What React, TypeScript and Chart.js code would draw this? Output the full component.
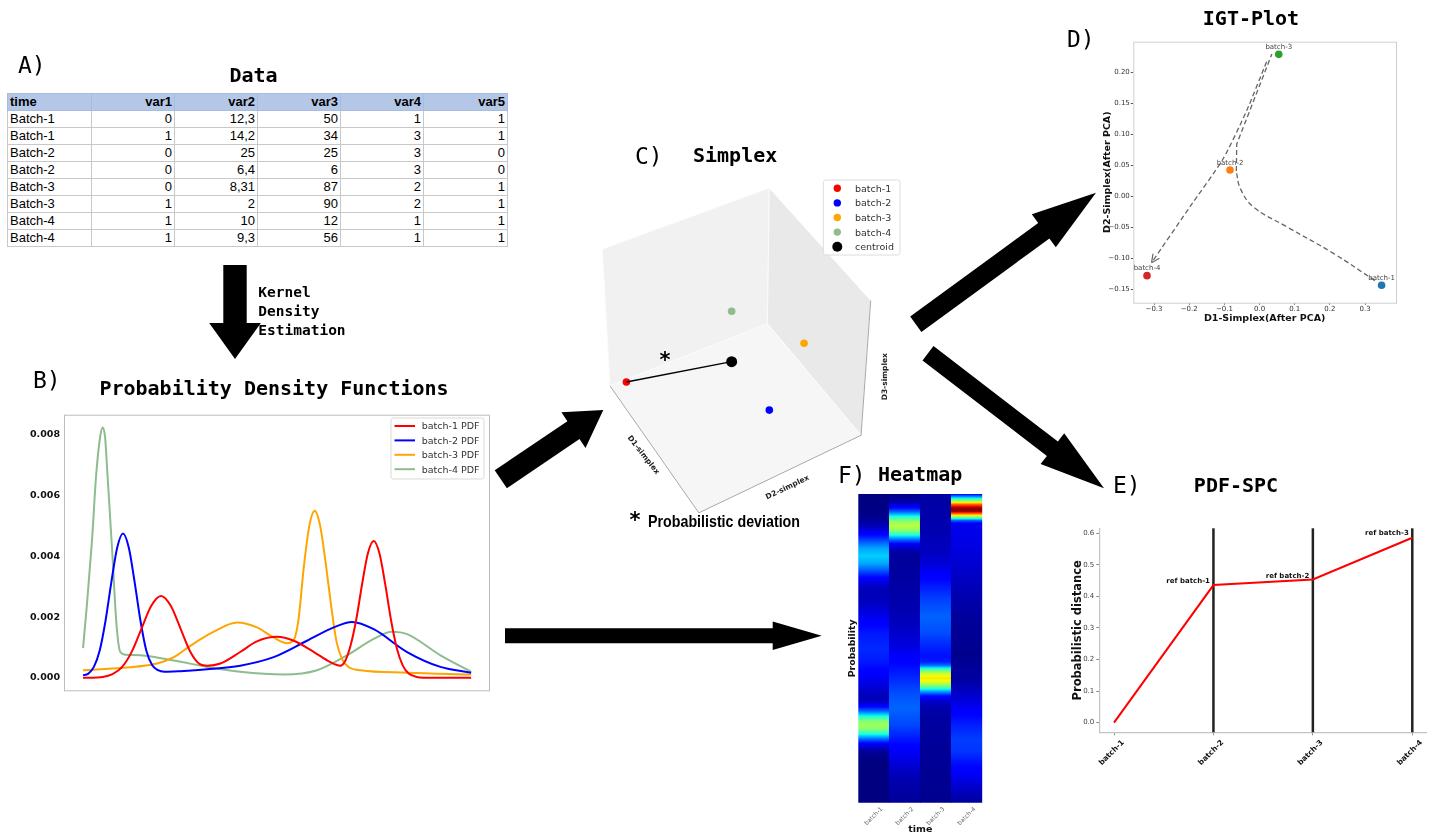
import React, { useEffect, useRef } from 'react';
import { Chart, registerables } from 'chart.js';

Chart.register(...registerables);
Chart.defaults.font.family = '"DejaVu Sans", sans-serif';

// ---------------- DATA ----------------
// A) table
const tableHeader = ['time', 'var1', 'var2', 'var3', 'var4', 'var5'];
const tableTime = ['Batch-1', 'Batch-1', 'Batch-2', 'Batch-2', 'Batch-3', 'Batch-3', 'Batch-4', 'Batch-4'];
const tableVar1 = ['0', '1', '0', '0', '0', '1', '1', '1'];
const tableVar2 = ['12,3', '14,2', '25', '6,4', '8,31', '2', '10', '9,3'];
const tableVar3 = ['50', '34', '25', '6', '87', '90', '12', '56'];
const tableVar4 = ['1', '3', '3', '3', '2', '2', '1', '1'];
const tableVar5 = ['1', '1', '0', '0', '1', '1', '1', '1'];

// B) probability density functions (x = KDE grid position, y = density)
const batchNames = ['batch-1', 'batch-2', 'batch-3', 'batch-4'];
const pdfLabels = ['batch-1 PDF', 'batch-2 PDF', 'batch-3 PDF', 'batch-4 PDF'];
const pdfColors = ['#ff0000', '#0000ff', '#ffa500', '#8fbc8f'];

const batch1X = [0, 5.1, 7.6, 10.1, 12.6, 15.1, 17.6, 20.1, 22.6, 25.1, 27.6, 30.1, 32, 35.4, 40.5, 44.8, 50, 54.3, 59.5, 63.7, 66.3, 67.4, 68.9, 70.4, 71.9, 73.4, 74.9, 76.4, 77.9, 79.4, 80.9, 82.4, 83.9, 86, 90, 100];
const batch1Y = [0, 0.00003, 0.00012, 0.00036, 0.00087, 0.00163, 0.00237, 0.00269, 0.00237, 0.00163, 0.00087, 0.00045, 0.0004, 0.00047, 0.00085, 0.0012, 0.00135, 0.00122, 0.00085, 0.00052, 0.0004, 0.00052, 0.00105, 0.00192, 0.00308, 0.0041, 0.0045, 0.00408, 0.00305, 0.00187, 0.00095, 0.0004, 0.00014, 0.00003, 0, 0];

const batch2X = [0, 1.3, 2.8, 4.3, 5.8, 7.3, 8.8, 10.3, 11.8, 13.3, 14.8, 16.3, 17.8, 19.3, 21, 25, 32, 40.5, 49.1, 57.7, 64.6, 69.3, 74.9, 83.5, 92.1, 100];
const batch2Y = [0.00009, 0.00013, 0.00036, 0.0009, 0.00188, 0.00315, 0.00428, 0.00475, 0.00428, 0.00315, 0.00188, 0.0009, 0.00042, 0.00025, 0.0002, 0.00022, 0.00028, 0.0004, 0.00068, 0.00122, 0.00166, 0.00184, 0.0016, 0.00085, 0.00036, 0.00017];

const batch3X = [0, 10.5, 19.1, 23.4, 27.7, 33.7, 39.7, 44.8, 49.1, 52.6, 54.3, 55.5, 56.9, 58.3, 59.7, 61.1, 62.5, 63.9, 65.3, 66.8, 68.5, 71.5, 83.5, 100];
const batch3Y = [0.00025, 0.00033, 0.00047, 0.00068, 0.00106, 0.00152, 0.00182, 0.00166, 0.00133, 0.00114, 0.00125, 0.0019, 0.00366, 0.005, 0.0055, 0.005, 0.0038, 0.0024, 0.0012, 0.0006, 0.00035, 0.00025, 0.00017, 0.00011];

const batch4X = [0, 1, 2.3, 3.4, 4.5, 5.1, 5.7, 6.2, 7.5, 8.6, 9.6, 11, 14.8, 23.4, 32, 40.5, 51.7, 60.3, 68, 74.9, 79.6, 83.5, 92.1, 100];
const batch4Y = [0.00098, 0.0024, 0.0045, 0.0067, 0.008, 0.00824, 0.0079, 0.0069, 0.0042, 0.0018, 0.00085, 0.00076, 0.00074, 0.00057, 0.00036, 0.0002, 0.00011, 0.00025, 0.00074, 0.00128, 0.00152, 0.00144, 0.00074, 0.0002];

const pdfTicks = [0, 0.002, 0.004, 0.006, 0.008];

// C) simplex (projected 3D view)
const simplexNames = ['batch-1', 'batch-2', 'batch-3', 'batch-4', 'centroid'];
const simplexX = [-1.46, 0.02, 0.38, -0.37, -0.37];
const simplexY = [-0.6, -0.89, -0.2, 0.13, -0.39];
const simplexColors = ['#ff0000', '#0000ff', '#ffa500', '#8fbc8f', '#000000'];
const cubeLeftWall = [[-1.71, 0.77], [0.02, 1.4], [0, 0], [-1.63, -0.64]];
const cubeRightWall = [[0.02, 1.4], [1.07, 0.24], [0.97, -1.15], [0, 0]];
const cubeFloor = [[-1.63, -0.64], [0, 0], [0.97, -1.15], [-0.71, -1.95]];

// D) IGT plot
const igtX = [0.347, -0.084, 0.0546, -0.32];
const igtY = [-0.1435, 0.0424, 0.229, -0.128];
const igtColors = ['#1f77b4', '#ff7f0e', '#2ca02c', '#d62728'];
const path1X = [0.328, 0.21, 0.077, -0.018, -0.055, -0.066];
const path1Y = [-0.136, -0.092, -0.049, -0.017, 0.013, 0.0395];
const path2X = [-0.066, -0.065, 0.035];
const path2Y = [0.041, 0.084, 0.2295];
const path3X = [0.02, -0.036, -0.103, -0.198, -0.307];
const path3Y = [0.217, 0.139, 0.061, -0.017, -0.107];
const igtXTicks = [-0.3, -0.2, -0.1, 0, 0.1, 0.2, 0.3];
const igtYTicks = [-0.15, -0.1, -0.05, 0, 0.05, 0.1, 0.15, 0.2];

// E) PDF-SPC
const spcValues = [0, 0.436, 0.454, 0.586];
const spcRefIdx = [1, 2, 3];
const spcRefLabels = ['ref batch-1', 'ref batch-2', 'ref batch-3'];
const spcRefLabelY = [0.449, 0.465, 0.6];
const spcTicks = [0, 0.1, 0.2, 0.3, 0.4, 0.5, 0.6];

// --------------------------------------
const pdfSeries = [
  { x: batch1X, y: batch1Y },
  { x: batch2X, y: batch2Y },
  { x: batch3X, y: batch3Y },
  { x: batch4X, y: batch4Y },
];

const jetR = [[0, 0], [0.35, 0], [0.66, 1], [0.89, 1], [1, 0.5]];
const jetG = [[0, 0], [0.125, 0], [0.375, 1], [0.64, 1], [0.91, 0], [1, 0]];
const jetB = [[0, 0.5], [0.11, 1], [0.34, 1], [0.65, 0], [1, 0]];
function seg(tab: number[][], v: number) {
  for (let i = 1; i < tab.length; i++) {
    if (v <= tab[i][0]) {
      const [x0, y0] = tab[i - 1];
      const [x1, y1] = tab[i];
      return y0 + ((y1 - y0) * (v - x0)) / (x1 - x0);
    }
  }
  return tab[tab.length - 1][1];
}
function jet(v: number) {
  const c = Math.max(0, Math.min(1, v));
  return `rgb(${Math.round(seg(jetR, c) * 255)},${Math.round(seg(jetG, c) * 255)},${Math.round(seg(jetB, c) * 255)})`;
}

function fmtSigned(v: number, d: number) {
  const s = Math.abs(v).toFixed(d);
  return (v < -1e-9 ? '\u2212' : '') + s;
}

function arrowPoints(tx: number, ty: number, px: number, py: number, w: number, hw: number, hl: number) {
  const dx = px - tx, dy = py - ty;
  const L = Math.hypot(dx, dy);
  const ux = dx / L, uy = dy / L;
  const nx = -uy, ny = ux;
  const bx = px - ux * hl, by = py - uy * hl;
  const pts = [
    [tx + nx * w / 2, ty + ny * w / 2],
    [bx + nx * w / 2, by + ny * w / 2],
    [bx + nx * hw / 2, by + ny * hw / 2],
    [px, py],
    [bx - nx * hw / 2, by - ny * hw / 2],
    [bx - nx * w / 2, by - ny * w / 2],
    [tx - nx * w / 2, ty - ny * w / 2],
  ];
  return pts.map((p) => p[0].toFixed(1) + ',' + p[1].toFixed(1)).join(' ');
}

const arrows = [
  [235, 265, 235, 359, 23.4, 51.7, 36],
  [500.8, 479.2, 603.3, 410, 21.7, 43, 36],
  [915.8, 324.2, 1096, 192.7, 19, 40.7, 64.6],
  [928, 353.3, 1104, 488.3, 18.1, 38.8, 65],
  [505, 635.8, 821.7, 635.7, 15, 28.3, 49],
];

const mono = '"DejaVu Sans Mono", monospace';

export default function App() {
  const refB = useRef<HTMLCanvasElement>(null);
  const refC = useRef<HTMLCanvasElement>(null);
  const refD = useRef<HTMLCanvasElement>(null);
  const refE = useRef<HTMLCanvasElement>(null);
  const refF = useRef<HTMLCanvasElement>(null);

  useEffect(() => {
    const charts: Chart[] = [];

    // ---- B: PDFs ----
    const boxPlugin = {
      id: 'boxB',
      afterDraw(chart: any) {
        const { ctx, chartArea: a } = chart;
        ctx.save();
        ctx.strokeStyle = '#bdbdbd';
        ctx.lineWidth = 1;
        ctx.strokeRect(a.left + 0.5, a.top + 0.5, a.right - a.left, a.bottom - a.top);
        ctx.restore();
      },
    };
    charts.push(
      new Chart(refB.current!, {
        type: 'line',
        data: {
          datasets: pdfSeries.map((s, i) => ({
            label: pdfLabels[i],
            data: s.x.map((x, k) => ({ x, y: s.y[k] })),
            borderColor: pdfColors[i],
            borderWidth: 2,
            pointRadius: 0,
            cubicInterpolationMode: 'monotone',
            fill: false,
          })),
        } as any,
        options: {
          responsive: false,
          animation: false,
          layout: { padding: { top: 8.5, right: 11, bottom: 8, left: 0 } },
          plugins: { legend: { display: false }, tooltip: { enabled: false } },
          scales: {
            x: { type: 'linear', min: -4.9, max: 104.6, display: false },
            y: {
              type: 'linear',
              min: -0.00041,
              max: 0.00866,
              afterFit: (s: any) => { s.width = 44; },
              afterBuildTicks: (s: any) => { s.ticks = pdfTicks.map((v) => ({ value: v })); },
              grid: { display: false, drawTicks: false },
              border: { display: false },
              ticks: {
                padding: 4,
                color: '#111',
                font: { size: 9.5, weight: 'bold' },
                callback: (v: any) => Number(v).toFixed(3),
              },
            },
          },
        } as any,
        plugins: [boxPlugin],
      })
    );

    // ---- C: Simplex ----
    const cubePlugin = {
      id: 'cube',
      beforeDatasetsDraw(chart: any) {
        const { ctx, scales } = chart;
        const P = (p: number[]) => [scales.x.getPixelForValue(p[0]), scales.y.getPixelForValue(p[1])];
        const face = (pts: number[][], fill: string) => {
          ctx.beginPath();
          pts.forEach((p, i) => {
            const [x, y] = P(p);
            if (i === 0) ctx.moveTo(x, y); else ctx.lineTo(x, y);
          });
          ctx.closePath();
          ctx.fillStyle = fill;
          ctx.fill();
          ctx.strokeStyle = '#fbfbfb';
          ctx.lineWidth = 1;
          ctx.stroke();
        };
        ctx.save();
        face(cubeLeftWall, '#f1f1f1');
        face(cubeRightWall, '#e9e9e9');
        face(cubeFloor, '#f6f6f6');
        const line = (a: number[], b: number[]) => {
          const [x1, y1] = P(a);
          const [x2, y2] = P(b);
          ctx.beginPath();
          ctx.moveTo(x1, y1);
          ctx.lineTo(x2, y2);
          ctx.stroke();
        };
        ctx.strokeStyle = '#a8a8a8';
        ctx.lineWidth = 1;
        line(cubeFloor[0], cubeFloor[3]);
        line(cubeFloor[3], cubeFloor[2]);
        line(cubeRightWall[1], cubeRightWall[2]);
        ctx.restore();
      },
    };
    charts.push(
      new Chart(refC.current!, {
        type: 'scatter',
        data: {
          datasets: [
            {
              data: [
                { x: simplexX[0], y: simplexY[0] },
                { x: simplexX[4], y: simplexY[4] },
              ],
              showLine: true,
              borderColor: '#000',
              borderWidth: 1.3,
              pointRadius: 0,
            },
            {
              data: simplexX.map((x, i) => ({ x, y: simplexY[i] })),
              backgroundColor: simplexColors,
              borderColor: simplexColors,
              pointRadius: simplexNames.map((n) => (n === 'centroid' ? 5.5 : 3.8)),
              borderWidth: 0,
            },
          ],
        } as any,
        options: {
          responsive: false,
          animation: false,
          layout: { padding: 0 },
          plugins: { legend: { display: false }, tooltip: { enabled: false } },
          scales: {
            x: { type: 'linear', min: -1.78, max: 1.42, display: false },
            y: { type: 'linear', min: -2.07, max: 1.53, display: false },
          },
        } as any,
        plugins: [cubePlugin],
      })
    );

    // ---- D: IGT plot ----
    const igtPlugin = {
      id: 'igt',
      afterDraw(chart: any) {
        const { ctx, chartArea: a, scales } = chart;
        ctx.save();
        ctx.strokeStyle = '#cfcfcf';
        ctx.lineWidth = 1;
        ctx.strokeRect(a.left + 0.5, a.top + 0.5, a.right - a.left, a.bottom - a.top);
        ctx.font = '7px "DejaVu Sans"';
        ctx.fillStyle = '#444';
        ctx.textAlign = 'center';
        ctx.textBaseline = 'alphabetic';
        igtX.forEach((x, i) => {
          ctx.fillText(batchNames[i], scales.x.getPixelForValue(x), scales.y.getPixelForValue(igtY[i]) - 5.5);
        });
        const n = path3X.length;
        const ex = scales.x.getPixelForValue(path3X[n - 1]);
        const ey = scales.y.getPixelForValue(path3Y[n - 1]);
        const sx = scales.x.getPixelForValue(path3X[n - 2]);
        const sy = scales.y.getPixelForValue(path3Y[n - 2]);
        const ang = Math.atan2(ey - sy, ex - sx);
        ctx.strokeStyle = '#666';
        ctx.lineWidth = 1.2;
        ctx.beginPath();
        [0.45, -0.45].forEach((d) => {
          ctx.moveTo(ex, ey);
          ctx.lineTo(ex - 9 * Math.cos(ang + d), ey - 9 * Math.sin(ang + d));
        });
        ctx.stroke();
        ctx.restore();
      },
    };
    const dashed = (xs: number[], ys: number[], tension: number) => ({
      data: xs.map((x, i) => ({ x, y: ys[i] })),
      showLine: true,
      borderColor: '#666',
      borderWidth: 1.3,
      borderDash: [5, 3],
      pointRadius: 0,
      tension,
    });
    charts.push(
      new Chart(refD.current!, {
        type: 'scatter',
        data: {
          datasets: [
            dashed(path1X, path1Y, 0.4),
            dashed(path2X, path2Y, 0),
            dashed(path3X, path3Y, 0.2),
            {
              data: igtX.map((x, i) => ({ x, y: igtY[i] })),
              backgroundColor: igtColors,
              borderColor: igtColors,
              pointRadius: 3.8,
              borderWidth: 0,
            },
          ],
        } as any,
        options: {
          responsive: false,
          animation: false,
          layout: { padding: { top: 11.7, right: 14, left: 0, bottom: 0 } },
          plugins: { legend: { display: false }, tooltip: { enabled: false } },
          scales: {
            x: {
              type: 'linear',
              min: -0.359,
              max: 0.388,
              afterFit: (s: any) => { s.height = 27.3; },
              afterBuildTicks: (s: any) => { s.ticks = igtXTicks.map((v) => ({ value: v })); },
              grid: { display: true, drawOnChartArea: false, drawTicks: true, tickLength: 2, color: '#555' },
              border: { display: false },
              ticks: { autoSkip: false, maxRotation: 0, padding: 0, color: '#333', font: { size: 7 }, callback: (v: any) => fmtSigned(Number(v), 1) },
              title: { display: true, text: 'D1-Simplex(After PCA)', color: '#111', font: { size: 9.5, weight: 'bold' }, padding: { top: 0, bottom: 5.5 } },
            },
            y: {
              type: 'linear',
              min: -0.1716,
              max: 0.2494,
              afterFit: (s: any) => { s.width = 43.3; },
              afterBuildTicks: (s: any) => { s.ticks = igtYTicks.map((v) => ({ value: v })); },
              grid: { display: true, drawOnChartArea: false, drawTicks: true, tickLength: 2.5, color: '#555' },
              border: { display: false },
              ticks: { autoSkip: false, padding: 1, color: '#333', font: { size: 7 }, callback: (v: any) => fmtSigned(Number(v), 2) },
              title: { display: true, text: 'D2-Simplex(After PCA)', color: '#111', font: { size: 9.5, weight: 'bold' }, padding: { top: 11.8, bottom: 0 } },
            },
          },
        } as any,
        plugins: [igtPlugin],
      })
    );

    // ---- E: PDF-SPC ----
    const spcPlugin = {
      id: 'spc',
      beforeDatasetsDraw(chart: any) {
        const { ctx, chartArea: a, scales } = chart;
        ctx.save();
        ctx.strokeStyle = '#222';
        ctx.lineWidth = 2.5;
        spcRefIdx.forEach((i) => {
          const x = scales.x.getPixelForValue(i);
          ctx.beginPath();
          ctx.moveTo(x, a.top);
          ctx.lineTo(x, a.bottom);
          ctx.stroke();
        });
        ctx.restore();
      },
      afterDraw(chart: any) {
        const { ctx, scales } = chart;
        ctx.save();
        ctx.font = 'bold 7px "DejaVu Sans"';
        ctx.fillStyle = '#111';
        ctx.textAlign = 'right';
        ctx.textBaseline = 'middle';
        spcRefIdx.forEach((i, k) => {
          ctx.fillText(spcRefLabels[k], scales.x.getPixelForValue(i) - 3.5, scales.y.getPixelForValue(spcRefLabelY[k]));
        });
        ctx.restore();
      },
    };
    charts.push(
      new Chart(refE.current!, {
        type: 'line',
        data: {
          datasets: [
            {
              data: spcValues.map((v, i) => ({ x: i, y: v })),
              borderColor: '#ff0000',
              borderWidth: 2,
              pointRadius: 0,
              tension: 0,
            },
          ],
        } as any,
        options: {
          responsive: false,
          animation: false,
          layout: { padding: { top: 13.3, right: 9.3, left: 0, bottom: 0 } },
          plugins: { legend: { display: false }, tooltip: { enabled: false } },
          scales: {
            x: {
              type: 'linear',
              min: -0.148,
              max: 3.145,
              afterFit: (s: any) => { s.height = 47.7; },
              afterBuildTicks: (s: any) => { s.ticks = batchNames.map((_, i) => ({ value: i })); },
              grid: { display: true, drawOnChartArea: false, drawTicks: true, tickLength: 3, color: '#888' },
              border: { display: true, color: '#c4c4c4', width: 1.2 },
              ticks: {
                autoSkip: false,
                minRotation: 45,
                maxRotation: 45,
                padding: 3,
                labelOffset: 9,
                color: '#111',
                font: { size: 7.5, weight: 'bold' },
                callback: (v: any) => batchNames[Math.round(Number(v))] ?? '',
              },
            },
            y: {
              type: 'linear',
              min: -0.0306,
              max: 0.616,
              afterFit: (s: any) => { s.width = 49.3; },
              afterBuildTicks: (s: any) => { s.ticks = spcTicks.map((v) => ({ value: v })); },
              grid: { display: true, drawOnChartArea: false, drawTicks: true, tickLength: 3, color: '#888' },
              border: { display: true, color: '#c4c4c4', width: 1.2 },
              ticks: { autoSkip: false, padding: 2, color: '#444', font: { size: 7 }, callback: (v: any) => Number(v).toFixed(1) },
              title: { display: true, text: 'Probabilistic distance', color: '#111', font: { size: 11.5, weight: 'bold' }, padding: { top: 20.8, bottom: 0 } },
            },
          },
        } as any,
        plugins: [spcPlugin],
      })
    );

    // ---- F: Heatmap ----
    const heatMin = Math.min(...pdfSeries.map((s) => s.x[0]));
    const heatMax = Math.max(...pdfSeries.map((s) => s.x[s.x.length - 1]));
    const vmax = Math.max(...pdfSeries.map((s) => Math.max(...s.y)));
    charts.push(
      new Chart(refF.current!, {
        type: 'bar',
        data: {
          labels: batchNames,
          datasets: [
            {
              data: batchNames.map(() => [heatMin, heatMax]),
              barPercentage: 1,
              categoryPercentage: 1,
              borderWidth: 0,
              backgroundColor: (c: any) => {
                const chart = c.chart;
                const ys = chart.scales && chart.scales.y;
                if (c.type !== 'data' || !chart.chartArea || !ys) return '#000080';
                const s = pdfSeries[c.dataIndex];
                const top = ys.getPixelForValue(heatMin);
                const bot = ys.getPixelForValue(heatMax);
                const g = chart.ctx.createLinearGradient(0, top, 0, bot);
                const steps = 8;
                for (let k = 0; k < s.x.length - 1; k++) {
                  for (let j = 0; j < steps; j++) {
                    const f = j / steps;
                    const t = s.x[k] + (s.x[k + 1] - s.x[k]) * f;
                    const v = s.y[k] + (s.y[k + 1] - s.y[k]) * f;
                    const off = Math.max(0, Math.min(1, (ys.getPixelForValue(t) - top) / (bot - top)));
                    g.addColorStop(off, jet(v / vmax));
                  }
                }
                g.addColorStop(1, jet(s.y[s.y.length - 1] / vmax));
                return g;
              },
            },
          ],
        } as any,
        options: {
          responsive: false,
          animation: false,
          layout: { padding: { top: 4, right: 7.7, left: 0, bottom: 0 } },
          plugins: { legend: { display: false }, tooltip: { enabled: false } },
          scales: {
            x: {
              type: 'category',
              afterFit: (s: any) => { s.height = 34.3; },
              grid: { display: false, drawTicks: false },
              border: { display: false },
              ticks: { autoSkip: false, minRotation: 45, maxRotation: 45, padding: 3, labelOffset: 8, color: '#666', font: { size: 6 } },
              title: { display: true, text: 'time', color: '#111', font: { size: 9.5, weight: 'bold' }, padding: { top: 0, bottom: 1.5 } },
            },
            y: {
              type: 'linear',
              min: heatMin,
              max: heatMax,
              reverse: true,
              afterFit: (s: any) => { s.width = 28.3; },
              grid: { display: false, drawTicks: false },
              border: { display: false },
              ticks: { display: false },
              title: { display: true, text: 'Probability', color: '#111', font: { size: 9.4, weight: 'bold' }, padding: { top: 16.9, bottom: 0 } },
            },
          },
        } as any,
      })
    );

    return () => charts.forEach((c) => c.destroy());
  }, []);

  const cellBase: React.CSSProperties = {
    border: '1px solid #c8c8c8',
    padding: '0 2px',
    height: 16,
    lineHeight: '16px',
    whiteSpace: 'nowrap',
    overflow: 'hidden',
  };
  const rows = tableTime.map((t, i) => [t, tableVar1[i], tableVar2[i], tableVar3[i], tableVar4[i], tableVar5[i]]);

  const canvasStyle = (l: number, t: number): React.CSSProperties => ({ position: 'absolute', left: l, top: t });

  return (
    <div style={{ position: 'absolute', left: 0, top: 0, width: 1436, height: 837, background: '#fff', overflow: 'hidden' }}>
      <table
        style={{
          position: 'absolute',
          left: 7,
          top: 93,
          width: 500,
          borderCollapse: 'collapse',
          tableLayout: 'fixed',
          fontFamily: '"Liberation Sans", Arial, sans-serif',
          fontSize: 13,
          color: '#000',
        }}
      >
        <colgroup>
          <col style={{ width: 84 }} />
          <col style={{ width: 83 }} />
          <col style={{ width: 83 }} />
          <col style={{ width: 83 }} />
          <col style={{ width: 83 }} />
          <col style={{ width: 84 }} />
        </colgroup>
        <thead>
          <tr style={{ background: '#b4c7e7' }}>
            {tableHeader.map((h, i) => (
              <th key={h} style={{ ...cellBase, borderColor: '#a9bcdc', fontWeight: 'bold', textAlign: i === 0 ? 'left' : 'right' }}>
                {h}
              </th>
            ))}
          </tr>
        </thead>
        <tbody>
          {rows.map((r, ri) => (
            <tr key={ri}>
              {r.map((c, ci) => (
                <td key={ci} style={{ ...cellBase, textAlign: ci === 0 ? 'left' : 'right' }}>
                  {c}
                </td>
              ))}
            </tr>
          ))}
        </tbody>
      </table>

      <canvas ref={refB} width={480} height={295} style={canvasStyle(20, 405)} />
      <canvas ref={refC} width={320} height={360} style={canvasStyle(590, 170)} />
      <canvas ref={refD} width={320} height={300} style={canvasStyle(1090, 30)} />
      <canvas ref={refE} width={386} height={265} style={canvasStyle(1050, 515)} />
      <canvas ref={refF} width={160} height={347} style={canvasStyle(830, 490)} />

      <svg width={1436} height={837} style={{ position: 'absolute', left: 0, top: 0, pointerEvents: 'none' }}>
        {arrows.map((a, i) => (
          <polygon key={i} points={arrowPoints(a[0], a[1], a[2], a[3], a[4], a[5], a[6])} fill="#000" />
        ))}

        <g fontFamily={mono} fontSize={23} fill="#000">
          <text x={18} y={73}>A)</text>
          <text x={33} y={388}>B)</text>
          <text x={635} y={164}>C)</text>
          <text x={1067} y={47}>D)</text>
          <text x={1113} y={493}>E)</text>
          <text x={838} y={483}>F)</text>
        </g>
        <g fontFamily={mono} fontSize={20} fontWeight="bold" fill="#000">
          <text x={253.5} y={82} textAnchor="middle">Data</text>
          <text x={274} y={395} textAnchor="middle">Probability Density Functions</text>
          <text x={693} y={162}>Simplex</text>
          <text x={1251} y={25} textAnchor="middle">IGT-Plot</text>
          <text x={1236} y={492} textAnchor="middle">PDF-SPC</text>
          <text x={878} y={481}>Heatmap</text>
        </g>
        <g fontFamily={mono} fontSize={14.5} fontWeight="bold" fill="#000">
          <text x={258.3} y={297}>Kernel</text>
          <text x={258.3} y={316}>Density</text>
          <text x={258.3} y={335}>Estimation</text>
        </g>

        <rect x={391} y={418} width={93} height={61} rx={2.5} fill="#fff" fillOpacity={0.85} stroke="#d9d9d9" />
        {pdfLabels.map((l, i) => {
          const y = 426 + i * 14.4;
          return (
            <g key={l}>
              <line x1={394.5} x2={415} y1={y} y2={y} stroke={pdfColors[i]} strokeWidth={2} />
              <text x={421.7} y={y + 3.4} fontFamily='"DejaVu Sans", sans-serif' fontSize={9.5} fill="#333">{l}</text>
            </g>
          );
        })}

        <rect x={823.3} y={180} width={76.7} height={75} rx={2.5} fill="#fff" fillOpacity={0.9} stroke="#dcdcdc" />
        {simplexNames.map((n, i) => {
          const y = 188.3 + i * 14.6;
          return (
            <g key={n}>
              <circle cx={837.3} cy={y} r={n === 'centroid' ? 5 : 3.7} fill={simplexColors[i]} />
              <text x={855} y={y + 3.4} fontFamily='"DejaVu Sans", sans-serif' fontSize={9.5} fill="#333">{n}</text>
            </g>
          );
        })}

        <g fontFamily='"DejaVu Sans", sans-serif' fontSize={7.5} fontWeight="bold" fill="#222" textAnchor="middle" dominantBaseline="middle">
          <text transform="translate(643.3,455) rotate(52)">D1-simplex</text>
          <text transform="translate(787.5,487.5) rotate(-25.6)">D2-simplex</text>
          <text transform="translate(885,376.7) rotate(-90)">D3-simplex</text>
        </g>

        <text x={665} y={367} textAnchor="middle" fontFamily='"DejaVu Sans", sans-serif' fontSize={21} fontWeight="bold" fill="#000">*</text>
        <text x={635} y={527} textAnchor="middle" fontFamily='"DejaVu Sans", sans-serif' fontSize={21} fontWeight="bold" fill="#000">*</text>
        <text
          x={648}
          y={527}
          fontFamily='"Liberation Sans Narrow", "Liberation Sans", sans-serif'
          fontSize={17}
          fontWeight="bold"
          fill="#000"
          textLength={152}
          lengthAdjust="spacingAndGlyphs"
        >
          Probabilistic deviation
        </text>
      </svg>
    </div>
  );
}
